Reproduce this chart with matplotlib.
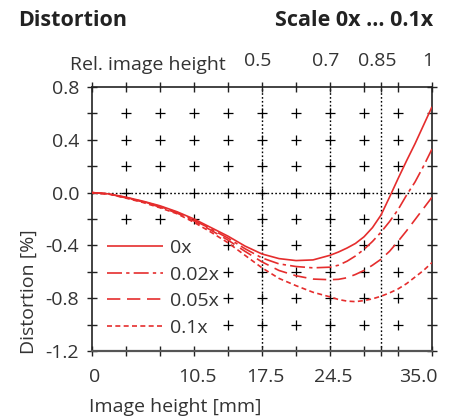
import matplotlib
matplotlib.use("Agg")
import matplotlib.pyplot as plt
import matplotlib.transforms as mtransforms
import numpy as np

plt.rcParams['font.family'] = ['Open Sans', 'DejaVu Sans']

# Data
image_height_mm = [0, 1.75, 3.5, 5.25, 7, 8.75, 10.5, 12.25, 14, 15.75, 17.5,
                   19.25, 21, 22.75, 24.5, 25.375, 26.25, 27.125, 28, 28.875, 29.75,
                   30.625, 31.5, 32.375, 33.25, 34.125, 35]
dist_0x = [0, -0.01, -0.035, -0.065, -0.10, -0.145, -0.20, -0.265, -0.33, -0.405, -0.465,
           -0.50, -0.515, -0.51, -0.475, -0.45, -0.42, -0.385, -0.335, -0.265, -0.17,
           -0.035, 0.105, 0.24, 0.37, 0.51, 0.65]
dist_002x = [0, -0.01, -0.037, -0.068, -0.105, -0.15, -0.21, -0.275, -0.345, -0.425, -0.495,
             -0.54, -0.56, -0.57, -0.565, -0.55, -0.52, -0.48, -0.43, -0.37, -0.30,
             -0.22, -0.13, -0.02, 0.08, 0.20, 0.33]
dist_005x = [0, -0.01, -0.04, -0.07, -0.11, -0.155, -0.215, -0.285, -0.36, -0.445, -0.525,
             -0.59, -0.63, -0.655, -0.66, -0.657, -0.645, -0.62, -0.59, -0.55, -0.505,
             -0.445, -0.37, -0.29, -0.205, -0.12, -0.035]
dist_01x = [0, -0.012, -0.042, -0.075, -0.115, -0.16, -0.225, -0.30, -0.38, -0.475, -0.57,
            -0.65, -0.705, -0.755, -0.79, -0.81, -0.822, -0.826, -0.818, -0.805, -0.785,
            -0.76, -0.73, -0.69, -0.64, -0.59, -0.53]
series_labels = ['0x', '0.02x', '0.05x', '0.1x']

x_ticklabels = {0: '0', 10.5: '10.5', 17.5: '17.5', 24.5: '24.5', 35: '35.0'}
rel_ticks = {17.5: '0.5', 24.5: '0.7', 29.75: '0.85', 35: '1'}
y_ticklabels = [0.8, 0.4, 0.0, -0.4, -0.8, -1.2]

red = '#e52d2d'
dark = '#222222'
txt = '#333333'
fs = 14

fig = plt.figure(figsize=(4.56, 4.20), dpi=100)
ax = fig.add_axes([92/456, 1-351/420, 340/456, 264/420])
ax.set_xlim(0, 35)
ax.set_ylim(-1.2, 0.8)

# dotted reference lines
for xv in [17.5, 24.5, 29.75]:
    ax.axvline(xv, color='black', lw=1.0, ls=(0, (1.2, 1.6)), zorder=1)
ax.axhline(0.0, color='black', lw=1.0, ls=(0, (1.2, 1.6)), zorder=1)

# grid crosses
xs = np.arange(1, 10) * 3.5
ys = np.round(np.arange(-5, 4) * 0.2, 2)
cx, cy = [], []
for xv in xs:
    for yv in ys:
        if xv <= 10.6 and yv <= -0.39:
            continue
        cx.append(xv); cy.append(yv)
ax.plot(cx, cy, ls='none', marker='+', ms=7, mew=0.9, color='black', zorder=2)

styles = ['-', (0, (9, 2.5, 2, 2.5)), (0, (8, 4)), (0, (3, 2))]
for vals, lab, st in zip([dist_0x, dist_002x, dist_005x, dist_01x], series_labels, styles):
    ax.plot(image_height_mm, vals, color=red, lw=1.2, ls=st, label=lab, zorder=3,
            solid_capstyle='butt', dash_capstyle='butt')

leg = ax.legend(loc='upper left', bbox_to_anchor=(0.044, 0.425), frameon=False,
                fontsize=fs, handlelength=2.9, handletextpad=0.36, labelspacing=0.45,
                borderpad=0, borderaxespad=0)
for t in leg.get_texts():
    t.set_color(txt)

# ticks
minor_x = list(np.arange(0, 11) * 3.5) + [29.75]
ax.set_xticks(list(x_ticklabels.keys()))
ax.set_xticklabels(list(x_ticklabels.values()))
ax.set_xticks(minor_x, minor=True)
ax.set_yticks(y_ticklabels)
ax.set_yticklabels([f'{v:.1f}' for v in y_ticklabels])
ax.set_yticks(np.round(np.arange(-6, 5) * 0.2, 2), minor=True)
ax.tick_params(axis='both', which='both', direction='inout', length=6.5, width=1.0,
               colors=dark, labelcolor=txt, labelsize=fs)
ax.tick_params(axis='y', which='both', right=True, pad=6)
ax.tick_params(axis='x', which='both', top=True, pad=9)

# nudge x tick labels slightly like reference
for lbl in ax.get_xticklabels():
    s = lbl.get_text()
    dx = 3 if s != '35.0' else -14
    lbl.set_transform(lbl.get_transform() + mtransforms.ScaledTranslation(dx/100, 0, fig.dpi_scale_trans))

for s in ax.spines.values():
    s.set_color(dark)
    s.set_linewidth(1.2)
ax.spines['bottom'].set_color('#555555')
ax.spines['bottom'].set_linewidth(1.6)

# top axis
sec = ax.secondary_xaxis('top')
sec.set_xticks(list(rel_ticks.keys()))
sec.set_xticklabels(list(rel_ticks.values()))
sec.tick_params(length=0, labelsize=fs, labelcolor=txt, pad=12)
sec.spines['top'].set_visible(False)
for lbl in sec.get_xticklabels():
    lbl.set_transform(lbl.get_transform() + mtransforms.ScaledTranslation(-4/100, 0, fig.dpi_scale_trans))

fig.text(70/456, 1-65/420, 'Rel. image height', fontsize=fs, color=txt,
         ha='left', va='center')

ax.set_xlabel('Image height [mm]', fontsize=fs, color=txt)
ax.xaxis.set_label_coords(-0.01, -0.178)
ax.xaxis.label.set_ha('left')
ax.set_ylabel('Distortion [%]', fontsize=fs, color=txt)
ax.yaxis.set_label_coords(-0.186, -0.01)
ax.yaxis.label.set_va('center')
ax.yaxis.label.set_ha('left')
ax.yaxis.label.set_rotation_mode('anchor')

fig.text(18/456, 1-20/420, 'Distortion', fontsize=15.5, fontweight='bold',
         color='#222222', ha='left', va='center')
fig.text(433/456, 1-20/420, 'Scale 0x … 0.1x', fontsize=15.5, fontweight='bold',
         color='#222222', ha='right', va='center')

fig.savefig('out.png', dpi=100)
